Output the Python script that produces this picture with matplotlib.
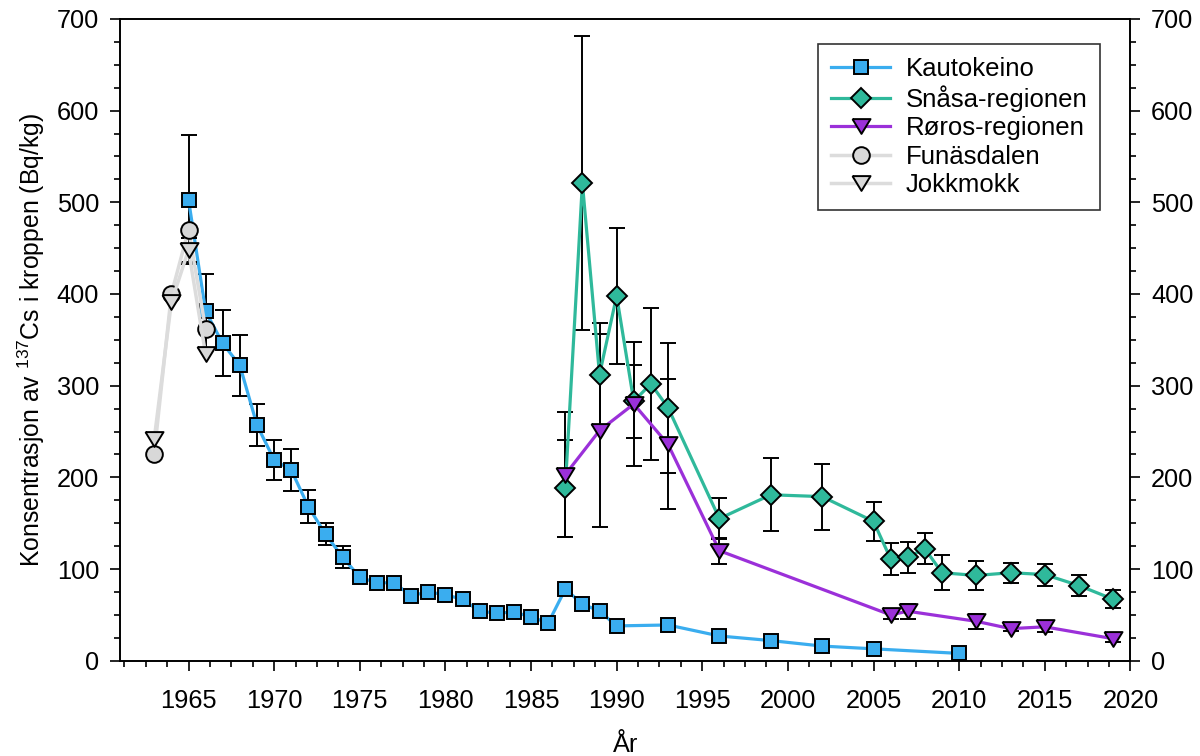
import numpy as np
import matplotlib
matplotlib.use("Agg")
import matplotlib.pyplot as plt
from matplotlib.ticker import MultipleLocator

plt.rcParams['font.family'] = ['Liberation Sans', 'DejaVu Sans']
plt.rcParams['mathtext.fontset'] = 'custom'
plt.rcParams['mathtext.rm'] = 'Liberation Sans'

# Kautokeino
kauto_years = [1965, 1966, 1967, 1968, 1969, 1970, 1971, 1972, 1973, 1974, 1975, 1976, 1977,
               1978, 1979, 1980, 1981, 1982, 1983, 1984, 1985, 1986, 1987, 1988, 1989, 1990,
               1993, 1996, 1999, 2002, 2005, 2010]
kauto_vals = [503, 381, 346, 322, 257, 219, 208, 168, 138, 113, 91, 85, 85,
              71, 75, 72, 67, 54, 52, 53, 48, 41, 78, 62, 54, 38,
              39, 27, 22, 16, 13, 8]
kauto_err = [70, 41, 36, 33, 23, 22, 23, 18, 12, 12, 4, 3, 3,
             np.nan, np.nan, np.nan, np.nan, np.nan, np.nan, np.nan, np.nan, np.nan, np.nan,
             np.nan, np.nan, np.nan, np.nan, np.nan, np.nan, np.nan, np.nan, np.nan]

# Snåsa-regionen
snasa_years = [1987, 1988, 1989, 1990, 1991, 1992, 1993, 1996, 1999, 2002, 2005, 2006, 2007,
               2008, 2009, 2011, 2013, 2015, 2017, 2019]
snasa_vals = [188, 521, 312, 398, 283, 302, 276, 155, 181, 179, 152, 111, 113,
              122, 96, 93, 96, 94, 82, 67]
snasa_err = [53, 160, 56, 74, 40, 83, 71, 22, 40, 36, 21, 17, 17,
             17, 19, 16, 11, 12, 11, 10]

# Røros-regionen
roros_years = [1987, 1989, 1991, 1993, 1996, 2006, 2007, 2011, 2013, 2015, 2019]
roros_vals = [203, 251, 280, 236, 120, 50, 54, 43, 35, 37, 24]
roros_err = [68, 105, 68, 71, 14, 5, 8, 8, 3, 6, 4]

# Funäsdalen and Jokkmokk
funas_years = [1963, 1964, 1965, 1966]
funas_vals = [226, 400, 470, 362]
jokk_years = [1963, 1964, 1965, 1966]
jokk_vals = [242, 391, 448, 334]
jokk_err = [np.nan, np.nan, 13, np.nan]

# slightly flattened down-triangle
tri = [(-1, 0.82), (1, 0.82), (0, -0.82), (-1, 0.82)]

fig = plt.figure(figsize=(12, 7.56), dpi=100)
ax = fig.add_axes([0.1, 0.126, 0.842, 0.849])

eb = dict(fmt='none', ecolor='black', elinewidth=1.4, capsize=6, capthick=1.4)

ax.errorbar(kauto_years, kauto_vals, yerr=kauto_err, zorder=2, **eb)
ax.plot(kauto_years, kauto_vals, color='#3aadef', lw=2.3, marker='s', ms=10.5,
        mfc='#3aadef', mec='black', mew=1.4, label='Kautokeino', zorder=3)

ax.errorbar(snasa_years, snasa_vals, yerr=snasa_err, zorder=2, **eb)
ax.plot(snasa_years, snasa_vals, color='#2fb99b', lw=2.3, marker='D', ms=10.4,
        mfc='#2fb99b', mec='black', mew=1.4, label='Snåsa-regionen', zorder=3)

ax.errorbar(roros_years, roros_vals, yerr=roros_err, zorder=2, **eb)
ax.plot(roros_years, roros_vals, color='#9b30d9', lw=2.3, marker=tri, ms=13,
        mfc='#9b30d9', mec='black', mew=1.4, label='Røros-regionen', zorder=4)

ax.plot(funas_years, funas_vals, color='#dcdcdc', lw=2.5, marker='o', ms=12,
        mfc='#d8d8d8', mec='black', mew=1.4, label='Funäsdalen', zorder=5)
ax.errorbar(jokk_years, jokk_vals, yerr=jokk_err, zorder=4, **eb)
ax.plot(jokk_years, jokk_vals, color='#dcdcdc', lw=2.5, marker=tri, ms=13,
        mfc='#d8d8d8', mec='black', mew=1.4, label='Jokkmokk', zorder=5)

ax.set_xlim(1961, 2020)
ax.set_ylim(0, 700)
ax.xaxis.set_major_locator(MultipleLocator(5))
ax.xaxis.set_minor_locator(MultipleLocator(1.25))
ax.yaxis.set_major_locator(MultipleLocator(100))
ax.yaxis.set_minor_locator(MultipleLocator(25))

ax.tick_params(which='both', direction='out', width=1.2, labelsize=18.3)
ax.tick_params(axis='y', which='both', right=True, labelright=True, pad=7.5)
ax.tick_params(axis='x', pad=13)
ax.tick_params(which='major', length=7.5)
ax.tick_params(which='minor', length=4)
for sp in ax.spines.values():
    sp.set_linewidth(1.4)

ax.set_xlabel('År', fontsize=18.3, labelpad=14)
ax.set_ylabel('Konsentrasjon av $^{\\mathregular{137}}$Cs i kroppen (Bq/kg)',
              fontsize=17.8, labelpad=7)

leg = ax.legend(loc='upper right', bbox_to_anchor=(0.97, 0.961), borderaxespad=0,
                fontsize=18.5, frameon=True, fancybox=False, edgecolor='black',
                handlelength=2.3, labelspacing=0.17, borderpad=0.5, handletextpad=0.6)
leg.get_frame().set_linewidth(1.2)

fig.savefig('out.png', dpi=100)
